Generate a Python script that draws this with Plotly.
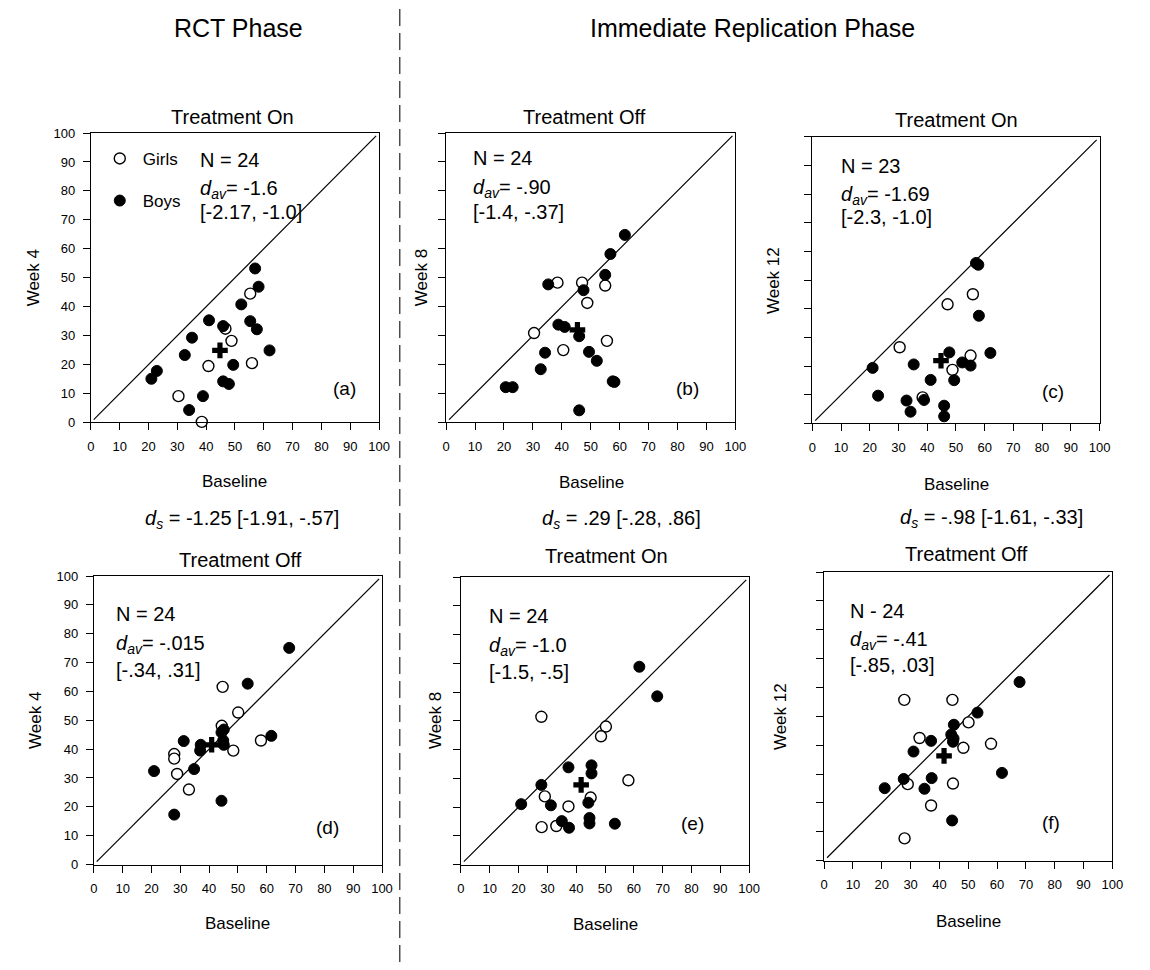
import plotly.graph_objects as go

W, H = 1150, 970
FONT = "Liberation Sans, Arial, Helvetica, sans-serif"

# ---------------- data ----------------
identity_line = [1, 99]
axis_ticks = list(range(0, 101, 10))

# (a) RCT phase, Treatment On: Week 4 vs Baseline
a_girls_x = [46.7, 48.8, 55.3, 55.9, 40.8, 30.4, 38.5]
a_girls_y = [32.4, 28.2, 44.5, 20.5, 19.5, 9.1, 0.2]
a_boys_x = [57.0, 58.2, 52.2, 55.3, 57.6, 62.0, 41.0, 45.9, 35.1, 32.6, 49.4, 45.9, 47.9, 22.9, 21.0, 38.9, 34.1]
a_boys_y = [53.2, 46.9, 40.8, 35.0, 32.2, 24.9, 35.3, 33.3, 29.3, 23.3, 19.9, 14.2, 13.3, 17.8, 15.1, 9.1, 4.3]
a_mean = [44.8, 24.9]

# (b) Immediate replication, Treatment Off: Week 8 vs Baseline
b_girls_x = [38.5, 47.0, 55.0, 48.8, 30.4, 55.6, 40.5]
b_girls_y = [48.3, 48.3, 47.3, 41.3, 30.9, 28.2, 25.0]
b_boys_x = [61.8, 56.8, 55.0, 35.3, 47.5, 38.8, 41.0, 46.0, 34.2, 49.4, 52.1, 32.7, 20.6, 23.0, 57.6, 58.2, 46.0]
b_boys_y = [64.8, 58.2, 51.0, 47.7, 45.7, 33.8, 33.0, 29.8, 24.1, 24.4, 21.3, 18.4, 12.2, 12.2, 14.2, 14.0, 4.2]
b_mean = [45.4, 32.0]

# (c) Immediate replication, Treatment On: Week 12 vs Baseline
c_girls_x = [47.1, 55.9, 30.4, 55.1, 48.8, 38.4]
c_girls_y = [41.6, 45.1, 26.6, 23.7, 18.7, 9.1]
c_boys_x = [57.0, 57.8, 58.0, 62.0, 47.7, 52.2, 55.1, 35.3, 21.0, 49.4, 41.2, 22.9, 32.8, 38.9, 34.2, 45.9, 45.9]
c_boys_y = [56.0, 55.4, 37.6, 24.6, 24.8, 21.3, 20.2, 20.6, 19.4, 15.1, 15.2, 9.7, 8.0, 8.2, 4.1, 6.2, 2.5]
c_mean = [44.8, 21.9]

# (d) RCT phase, Treatment Off: Week 4 vs Baseline
d_girls_x = [44.7, 50.1, 44.4, 58.0, 48.4, 27.9, 27.9, 28.9, 33.0]
d_girls_y = [61.6, 52.7, 48.1, 43.0, 39.5, 38.3, 36.7, 31.4, 26.0]
d_boys_x = [67.8, 53.4, 61.6, 31.2, 37.1, 36.9, 45.1, 44.3, 44.9, 45.1, 34.8, 20.9, 44.3, 27.9]
d_boys_y = [75.1, 62.7, 44.6, 42.8, 41.5, 39.5, 46.8, 45.8, 43.0, 41.5, 33.1, 32.4, 22.1, 17.3]
d_mean = [40.9, 41.5]

# (e) Immediate replication, Treatment On: Week 8 vs Baseline
e_girls_x = [27.9, 50.3, 48.6, 58.1, 29.1, 45.0, 37.3, 28.0, 33.1]
e_girls_y = [51.4, 48.0, 44.6, 29.3, 23.7, 23.3, 20.2, 13.0, 13.4]
e_boys_x = [61.9, 68.1, 37.3, 45.3, 45.3, 27.9, 20.9, 31.2, 44.2, 44.6, 44.6, 35.0, 37.5, 53.4]
e_boys_y = [68.8, 58.5, 33.8, 34.5, 31.7, 27.7, 21.0, 20.6, 21.5, 16.2, 14.3, 15.1, 12.8, 14.2]
e_mean = [41.7, 27.7]

# (f) Immediate replication, Treatment Off: Week 12 vs Baseline
f_girls_x = [27.8, 44.5, 50.1, 33.1, 48.3, 57.9, 29.0, 44.7, 37.1, 27.9]
f_girls_y = [55.7, 55.7, 47.9, 42.5, 39.1, 40.5, 26.5, 26.7, 19.1, 7.7]
f_boys_x = [67.8, 53.2, 45.0, 44.1, 44.9, 44.7, 37.1, 31.0, 61.7, 27.6, 37.3, 21.0, 34.8, 44.4]
f_boys_y = [61.9, 51.3, 47.1, 43.7, 42.3, 41.2, 41.5, 37.8, 30.4, 28.3, 28.6, 25.1, 24.9, 13.9]
f_mean = [41.6, 36.3]

# text labels
phase_titles = ["RCT Phase", "Immediate Replication Phase"]
panel_titles = ["Treatment On", "Treatment Off", "Treatment On", "Treatment Off", "Treatment On", "Treatment Off"]
panel_letters = ["(a)", "(b)", "(c)", "(d)", "(e)", "(f)"]
y_titles = ["Week 4", "Week 8", "Week 12", "Week 4", "Week 8", "Week 12"]
x_title = "Baseline"
n_labels = ["N = 24", "N = 24", "N = 23", "N = 24", "N = 24", "N - 24"]
dav_values = ["-1.6", "-.90", "-1.69", "-.015", "-1.0", "-.41"]
dav_ci = ["[-2.17, -1.0]", "[-1.4, -.37]", "[-2.3, -1.0]", "[-.34, .31]", "[-1.5, -.5]", "[-.85, .03]"]
ds_texts = ["-1.25 [-1.91, -.57]", ".29 [-.28, .86]", "-.98 [-1.61, -.33]"]
legend_names = ["Girls", "Boys"]

# ---------------- layout geometry (window pixels) ----------------
def px(x):
    return x / W

def py(y):
    return 1 - y / H

panels = [
    dict(gx=a_girls_x, gy=a_girls_y, bx=a_boys_x, by=a_boys_y, mean=a_mean,
         xd=(88, 380), yd=(128, 422), ylab=True, ytx=30, ttl=(232, 112),
         st=(197, (155, 182, 208)), lab=(345, 387), xt=(234, 482)),
    dict(gx=b_girls_x, gy=b_girls_y, bx=b_boys_x, by=b_boys_y, mean=b_mean,
         xd=(448, 741), yd=(128, 422), ylab=False, ytx=423, ttl=(588, 112),
         st=(473, (153, 181, 208)), lab=(693, 387), xt=(595, 483)),
    dict(gx=c_girls_x, gy=c_girls_y, bx=c_boys_x, by=c_boys_y, mean=c_mean,
         xd=(819, 1110), yd=(132, 423), ylab=False, ytx=779, ttl=(965, 115),
         st=(846, (161, 188, 213)), lab=(1063, 391), xt=(965, 485)),
    dict(gx=d_girls_x, gy=d_girls_y, bx=d_boys_x, by=d_boys_y, mean=d_mean,
         xd=(91, 383), yd=(578, 871), ylab=True, ytx=32, ttl=(240, 562),
         st=(111, (617, 645, 673)), lab=(328, 833), xt=(237, 931)),
    dict(gx=e_girls_x, gy=e_girls_y, bx=e_boys_x, by=e_boys_y, mean=e_mean,
         xd=(463, 755), yd=(579, 871), ylab=False, ytx=437, ttl=(610, 558),
         st=(489, (619, 647, 675)), lab=(698, 829), xt=(609, 932)),
    dict(gx=f_girls_x, gy=f_girls_y, bx=f_boys_x, by=f_boys_y, mean=f_mean,
         xd=(831, 1123), yd=(574, 867), ylab=False, ytx=787, ttl=(975, 556),
         st=(855, (613, 640, 668)), lab=(1061, 828), xt=(977, 929)),
]
ds_pos = [(241, 518), (626, 518), (1001, 517)]

fig = go.Figure()
annotations = []

def ann(text, x, y, size, xanchor="center", yanchor="middle", angle=0):
    annotations.append(dict(text=text, x=px(x), y=py(y), xref="paper", yref="paper",
                            xanchor=xanchor, yanchor=yanchor, showarrow=False, textangle=angle,
                            font=dict(family=FONT, size=size, color="black")))

def sub(s):
    return "<sub><i>" + s + "</i></sub>"

for i, p in enumerate(panels):
    n = "" if i == 0 else str(i + 1)
    xa, ya = "x" + n, "y" + n
    first = (i == 0)
    fig.add_trace(go.Scatter(x=identity_line, y=identity_line, mode="lines",
                             line=dict(color="black", width=1.2), showlegend=False,
                             hoverinfo="skip", xaxis=xa, yaxis=ya))
    fig.add_trace(go.Scatter(x=p["gx"], y=p["gy"], mode="markers", name=legend_names[0],
                             legendgroup="girls", showlegend=first, cliponaxis=False,
                             marker=dict(symbol="circle", size=11, color="white",
                                         line=dict(color="black", width=1.4)),
                             xaxis=xa, yaxis=ya))
    fig.add_trace(go.Scatter(x=p["bx"], y=p["by"], mode="markers", name=legend_names[1],
                             legendgroup="boys", showlegend=first, cliponaxis=False,
                             marker=dict(symbol="circle", size=11, color="black",
                                         line=dict(color="black", width=1)),
                             xaxis=xa, yaxis=ya))
    fig.add_trace(go.Scatter(x=[p["mean"][0]], y=[p["mean"][1]], mode="markers",
                             showlegend=False, cliponaxis=False,
                             marker=dict(symbol="cross", size=13, color="black"),
                             xaxis=xa, yaxis=ya))
    axcommon = dict(range=[0, 100], tickvals=axis_ticks, ticks="outside", ticklen=7,
                    tickwidth=1, tickcolor="black", showline=True, linecolor="black",
                    linewidth=1, mirror=True, showgrid=False, zeroline=False,
                    tickfont=dict(family=FONT, size=13, color="black"))
    fig.layout["xaxis" + n] = dict(axcommon, domain=[px(p["xd"][0]), px(p["xd"][1])],
                                   anchor=ya, ticklabelstandoff=5)
    fig.layout["yaxis" + n] = dict(axcommon, domain=[py(p["yd"][1]), py(p["yd"][0])],
                                   anchor=xa, showticklabels=p["ylab"], ticklabelstandoff=5)
    # titles / labels
    ann(panel_titles[i], p["ttl"][0], p["ttl"][1], 20)
    ann(panel_letters[i], p["lab"][0], p["lab"][1], 19)
    ann(x_title, p["xt"][0], p["xt"][1], 17)
    ycen = (p["yd"][0] + p["yd"][1]) / 2
    ann(y_titles[i], p["ytx"], ycen, 17, angle=-90)
    sx, sy = p["st"]
    ann(n_labels[i], sx, sy[0], 20, xanchor="left")
    ann("<i>d</i>" + sub("av") + "= " + dav_values[i], sx, sy[1] + 3, 20, xanchor="left")
    ann(dav_ci[i], sx, sy[2], 20, xanchor="left")

for j, t in enumerate(ds_texts):
    ann("<i>d</i>" + sub("s") + " = " + t, ds_pos[j][0], ds_pos[j][1] + 3, 20)

ann(phase_titles[0], 238, 21, 25)
ann(phase_titles[1], 758, 21, 25)

fig.update_layout(
    width=W, height=H,
    margin=dict(l=0, r=0, t=0, b=0),
    paper_bgcolor="white", plot_bgcolor="white",
    font=dict(family=FONT, color="black"),
    annotations=annotations,
    showlegend=True,
    legend=dict(x=px(94), y=py(136), xanchor="left", yanchor="top",
                bgcolor="rgba(0,0,0,0)", borderwidth=0, itemwidth=36,
                traceorder="grouped", tracegroupgap=17,
                font=dict(family=FONT, size=17, color="black")),
    shapes=[dict(type="line", xref="paper", yref="paper", x0=px(401), x1=px(401),
                 y0=0, y1=1, line=dict(color="#333333", width=1.3, dash="17px,7px"))],
)

# remove the default page margin so the 1150x970 figure fills the window exactly
fig.write_html("out.html", config={"displayModeBar": False},
               post_script="document.body.style.margin='0px';document.body.style.overflow='hidden';")
